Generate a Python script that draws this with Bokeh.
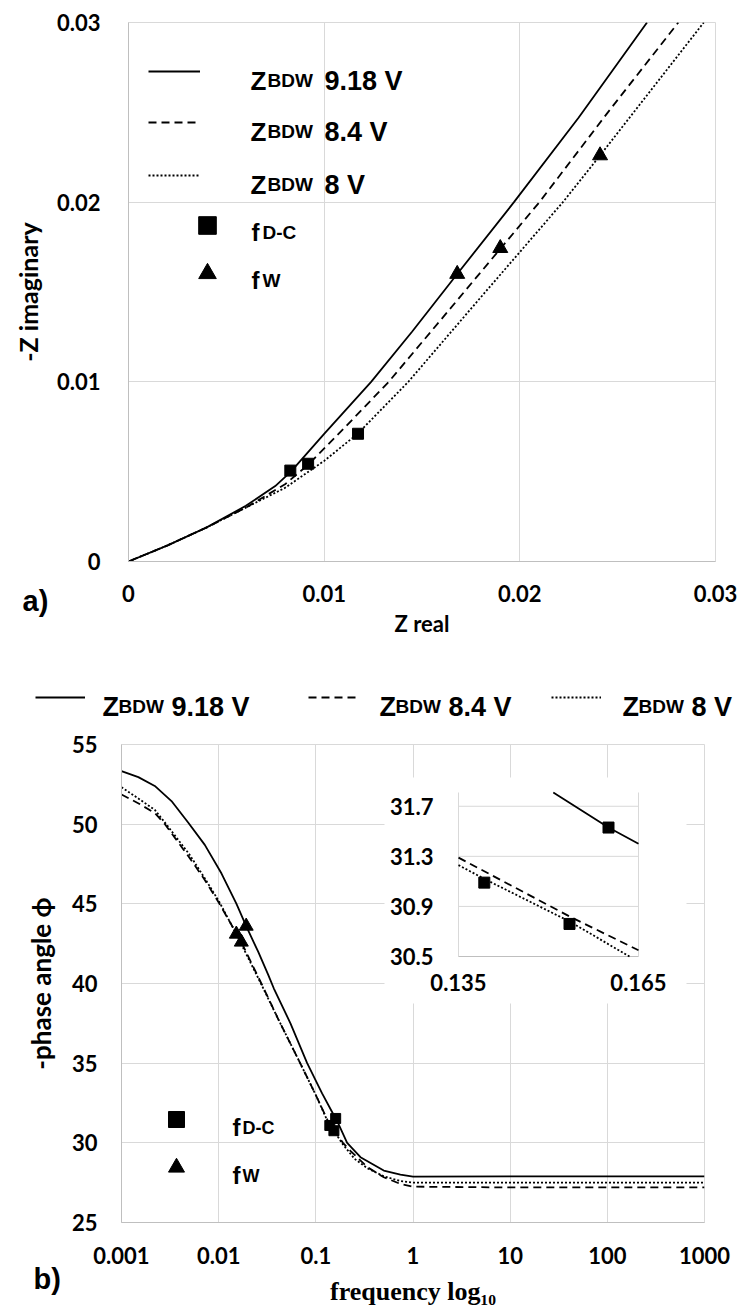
from bokeh.plotting import figure
from bokeh.layouts import column
from bokeh.models import Range1d, FixedTicker, Legend, LegendItem, Label, LinearScale
from bokeh.embed import file_html
from bokeh.resources import INLINE
from bokeh.core.properties import value

# ------------------------------------------------------------------ data
# panel a) Nyquist plot  (Z real, -Z imaginary)
a_re_918 = [0, 0.002, 0.004, 0.006, 0.0075, 0.0083, 0.0100, 0.0124, 0.0145, 0.0168, 0.0197, 0.0230, 0.0265]
a_im_918 = [0, 0.0009, 0.0019, 0.0031, 0.0042, 0.0050, 0.0071, 0.0100, 0.0128, 0.0160, 0.0200, 0.0247, 0.0300]
a_re_84 = [0, 0.002, 0.004, 0.006, 0.0080, 0.0092, 0.0110, 0.0133, 0.0160, 0.0190, 0.0210, 0.0245, 0.0281]
a_im_84 = [0, 0.0009, 0.0019, 0.0030, 0.0043, 0.0054, 0.0074, 0.0100, 0.0135, 0.0174, 0.0200, 0.0250, 0.0300]
a_re_8 = [0, 0.002, 0.004, 0.006, 0.008, 0.0100, 0.0117, 0.0143, 0.0180, 0.0222, 0.0241, 0.0294]
a_im_8 = [0, 0.0009, 0.0019, 0.0030, 0.0041, 0.0056, 0.0071, 0.0100, 0.0147, 0.0200, 0.0226, 0.0300]
a_fdc_re = [0.00827, 0.00918, 0.01173]
a_fdc_im = [0.00506, 0.00544, 0.00711]
a_fw_re = [0.0168, 0.0190, 0.0241]
a_fw_im = [0.0160, 0.01744, 0.0226]
a_ticks = [0, 0.01, 0.02, 0.03]
a_tick_labels = ["0", "0.01", "0.02", "0.03"]

# panel b) Bode phase plot (frequency, -phase angle)
b_f_918 = [0.001, 0.00149, 0.0022, 0.00327, 0.00485, 0.0072, 0.0107, 0.01525, 0.0192, 0.0255, 0.0323,
           0.0369, 0.0548, 0.0814, 0.116, 0.1508, 0.160, 0.165, 0.21, 0.288, 0.5, 0.742, 1.0, 10, 100, 1000]
b_ph_918 = [53.33, 52.95, 52.4, 51.45, 50.1, 48.7, 46.9, 45.0, 43.6, 42.0, 40.56,
            39.7, 37.5, 35.0, 33.1, 31.81, 31.53, 31.40, 30.0, 29.1, 28.26, 28.0, 27.88, 27.9, 27.9, 27.9]
b_f_84 = [0.001, 0.0015, 0.0022, 0.0028, 0.005, 0.0072, 0.0102, 0.0171, 0.0275, 0.0415, 0.069, 0.1,
          0.135, 0.1535, 0.165, 0.19, 0.227, 0.34, 0.5, 0.742, 1.0, 10, 100, 1000]
b_ph_84 = [51.86, 51.3, 50.7, 50.0, 47.9, 46.5, 45.0, 42.6, 40.0, 37.7, 35.0, 33.0,
           31.29, 30.82, 30.55, 30.0, 29.5, 28.47, 27.84, 27.42, 27.25, 27.2, 27.2, 27.2]
b_f_8 = [0.001, 0.0015, 0.0022, 0.0028, 0.005, 0.0072, 0.0102, 0.0152, 0.0272, 0.0415, 0.069, 0.1,
         0.135, 0.1393, 0.1535, 0.1635, 0.19, 0.25, 0.34, 0.5, 0.742, 1.0, 10, 100, 1000]
b_ph_8 = [52.32, 51.6, 50.9, 50.1, 48.1, 46.6, 45.1, 43.1, 40.0, 37.7, 35.0, 33.0,
          31.23, 31.12, 30.78, 30.5, 29.9, 29.0, 28.4, 27.9, 27.6, 27.5, 27.5, 27.5, 27.5]
b_fdc_f = [0.160, 0.1535, 0.1393]
b_fdc_ph = [31.53, 30.76, 31.09]
b_fw_f = [0.0192, 0.0171, 0.0152]
b_fw_ph = [43.6, 42.6, 43.1]
b_xticks = [0.001, 0.01, 0.1, 1, 10, 100, 1000]
b_xtick_labels = ["0.001", "0.01", "0.1", "1", "10", "100", "1000"]
b_yticks = [25, 30, 35, 40, 45, 50, 55]
b_ytick_labels = ["25", "30", "35", "40", "45", "50", "55"]

# inset of panel b)
in_f_918 = [0.1508, 0.160, 0.165]
in_ph_918 = [31.81, 31.53, 31.40]
in_f_84 = [0.135, 0.1535, 0.165]
in_ph_84 = [31.29, 30.82, 30.55]
in_f_8 = [0.135, 0.1393, 0.1535, 0.1635]
in_ph_8 = [31.23, 31.12, 30.78, 30.5]
in_xticks = [0.135, 0.165]
in_xtick_labels = ["0.135", "0.165"]
in_yticks = [30.5, 30.9, 31.3, 31.7]
in_ytick_labels = ["30.5", "30.9", "31.3", "31.7"]
in_x_range = (0.135, 0.165)
in_y_range = (30.5, 31.81)

series_names = ["9.18 V", "8.4 V", "8 V"]

# ------------------------------------------------------------------ styles
GRID = "#d9d9d9"
AXIS = "#bfbfbf"
TICK_FONT = "Lato"
LEG_FONT = "Liberation Sans"
DASH = "8 5"
DOT = "2 2"
LW = 1.8
W = 742


def style_axis(ax, size="22px"):
    ax.major_tick_line_color = None
    ax.minor_tick_line_color = None
    ax.major_tick_out = 0
    ax.major_tick_in = 0
    ax.axis_line_color = AXIS
    ax.major_label_text_font = TICK_FONT
    ax.major_label_text_font_style = "bold"
    ax.major_label_text_font_size = size
    ax.major_label_text_color = "black"
    ax.axis_label_text_color = "black"
    ax.axis_label_text_font_style = "bold"


def add_text(p, fl, fb, px, py, text, size, font=LEG_FONT, align="left", baseline="alphabetic"):
    # text inside a plot frame, positioned in screen pixels relative to the frame
    p.add_layout(Label(x=px - fl, y=fb - py, x_units="screen", y_units="screen", text=text,
                       text_font=font, text_font_size=f"{size}px", text_font_style="bold",
                       text_align=align, text_baseline=baseline, text_color="black"))


def add_legend(p, fl, fb, renderer, left, top, gw, gh):
    lg = Legend(items=[LegendItem(label="", renderers=[renderer])],
                location=(left - fl, fb - (top + gh)), glyph_width=gw, glyph_height=gh,
                label_width=0, label_height=gh, label_standoff=0, padding=0, margin=0, spacing=0,
                border_line_color=None, background_fill_alpha=0, label_text_font_size="1px")
    p.add_layout(lg)


# ------------------------------------------------------------------ panel a
HA = 640
FA_L, FA_R, FA_T, FA_B = 128, 715, 22, 561
pa = figure(width=W, height=HA, title=None, x_range=Range1d(0, 0.03), y_range=Range1d(0, 0.03),
            output_backend="svg", toolbar_location=None, frame_align=False,
            min_border_left=FA_L, min_border_right=W - FA_R, min_border_top=FA_T, min_border_bottom=HA - FA_B)
pa.outline_line_color = GRID
pa.border_fill_color = "white"
a_ticker = FixedTicker(ticks=a_ticks)
for ax in (pa.xaxis[0], pa.yaxis[0]):
    style_axis(ax)
    ax.ticker = a_ticker
    ax.major_label_overrides = {t: l for t, l in zip(a_ticks, a_tick_labels)}
for g in (pa.xgrid[0], pa.ygrid[0]):
    g.ticker = a_ticker
    g.grid_line_color = GRID
pa.xaxis.major_label_standoff = 23
pa.yaxis.major_label_standoff = 28
pa.xaxis.axis_label = "Z real"
pa.xaxis.axis_label_text_font = TICK_FONT
pa.xaxis.axis_label_text_font_size = "22px"
pa.xaxis.axis_label_standoff = 5
pa.yaxis.axis_label = "-Z imaginary"
pa.yaxis.axis_label_text_font = TICK_FONT
pa.yaxis.axis_label_text_font_size = "25px"
pa.yaxis.axis_label_standoff = 11

ra1 = pa.line(a_re_918, a_im_918, line_color="black", line_width=LW)
ra2 = pa.line(a_re_84, a_im_84, line_color="black", line_width=LW, line_dash=DASH)
ra3 = pa.line(a_re_8, a_im_8, line_color="black", line_width=LW, line_dash=DOT)
rsa = pa.scatter(a_fdc_re, a_fdc_im, marker="square", size=11, color="black")
rta = pa.scatter(a_fw_re, a_fw_im, marker="triangle", size=15, color="black")

# legend a (glyph samples + rich text)
for r, cy in zip((ra1, ra2, ra3), (71, 122, 175)):
    add_legend(pa, FA_L, FA_B, r, 148, cy - 10, 52, 20)
for r, cy in zip((rsa, rta), (225, 273)):
    add_legend(pa, FA_L, FA_B, r, 207 - 22, cy - 22, 44, 44)
for name, cy in zip(series_names, (71, 122, 175)):
    add_text(pa, FA_L, FA_B, 250, cy + 9, "Z", 26)
    add_text(pa, FA_L, FA_B, 267, cy + 9, "BDW", 19)
    add_text(pa, FA_L, FA_B, 324, cy + 9, name, 27)
add_text(pa, FA_L, FA_B, 251, 232, "f", 24)
add_text(pa, FA_L, FA_B, 262, 232, "D-C", 19)
add_text(pa, FA_L, FA_B, 251, 280, "f", 24)
add_text(pa, FA_L, FA_B, 262, 280, "W", 19)

# panel tag "a)" (outside the frame -> lives in the narrow right side panel, placed in data units)
kxa = 0.03 / (FA_R - FA_L)
kya = 0.03 / (FA_B - FA_T)
pa.add_layout(Label(x=(22 - FA_L) * kxa, y=(FA_B - 600) * kya, x_units="data", y_units="data", text="a)",
                    text_font=LEG_FONT, text_font_size="29px", text_font_style="bold",
                    text_align="left", text_baseline="middle", text_color="black"), "right")

# ------------------------------------------------------------------ legend strip of panel b
HS = 80
S_BOTTOM = HA + HS
ps = figure(width=W, height=HS, title=None, x_range=Range1d(0, 1), y_range=Range1d(0, 1),
            output_backend="svg", toolbar_location=None, x_axis_location=None, y_axis_location=None,
            frame_align=False, min_border_left=0, min_border_right=0, min_border_top=0, min_border_bottom=0)
ps.outline_line_color = None
ps.grid.visible = False
ps.border_fill_color = "white"
# hidden copies of the panel-b series, used only as legend glyph sources
rs1 = ps.line(b_f_918, b_ph_918, line_color="black", line_width=LW, visible=False)
rs2 = ps.line(b_f_84, b_ph_84, line_color="black", line_width=LW, line_dash=DASH, visible=False)
rs3 = ps.line(b_f_8, b_ph_8, line_color="black", line_width=LW, line_dash=DOT, visible=False)
for r, x0, zx, name in zip((rs1, rs2, rs3), (35, 308, 551), (102, 379, 622), series_names):
    add_legend(ps, 0, S_BOTTOM, r, x0, 697 - 10, 50, 20)
    add_text(ps, 0, S_BOTTOM, zx, 706, "Z", 27)
    add_text(ps, 0, S_BOTTOM, zx + 16, 706, "BDW", 19)
    add_text(ps, 0, S_BOTTOM, zx + 69, 706, name, 27)

# ------------------------------------------------------------------ panel b
HB = 1309 - S_BOTTOM
PB_TOP, PB_BOTTOM = 744, 1222
FB_L, FB_R = 121, 704
pb = figure(width=W, height=HB, title=None, x_axis_type="log", x_range=Range1d(0.001, 1000),
            y_range=Range1d(25, 55), output_backend="svg", toolbar_location=None, frame_align=False,
            min_border_left=FB_L, min_border_right=W - FB_R, min_border_top=PB_TOP - S_BOTTOM,
            min_border_bottom=1309 - PB_BOTTOM)
pb.outline_line_color = GRID
pb.border_fill_color = "white"
bx_ticker = FixedTicker(ticks=b_xticks)
by_ticker = FixedTicker(ticks=b_yticks)
style_axis(pb.xaxis[0])
style_axis(pb.yaxis[0])
pb.xaxis.ticker = bx_ticker
pb.yaxis.ticker = by_ticker
pb.xgrid.ticker = bx_ticker
pb.ygrid.ticker = by_ticker
pb.grid.grid_line_color = GRID
pb.xaxis.major_label_overrides = {t: l for t, l in zip(b_xticks, b_xtick_labels)}
pb.yaxis.major_label_overrides = {t: l for t, l in zip(b_yticks, b_ytick_labels)}
pb.xaxis.major_label_standoff = 24
pb.yaxis.major_label_standoff = 24
pb.xaxis.axis_label = "frequency log\u2081\u2080"
pb.xaxis.axis_label_text_font = "Liberation Serif"
pb.xaxis.axis_label_text_font_size = "26px"
pb.xaxis.axis_label_standoff = 10
pb.yaxis.axis_label = "-phase angle \u03d5"
pb.yaxis.axis_label_text_font = TICK_FONT
pb.yaxis.axis_label_text_font_size = "26px"
pb.yaxis.axis_label_standoff = 12

rb1 = pb.line(b_f_918, b_ph_918, line_color="black", line_width=LW)
rb2 = pb.line(b_f_84, b_ph_84, line_color="black", line_width=LW, line_dash=DASH)
rb3 = pb.line(b_f_8, b_ph_8, line_color="black", line_width=LW, line_dash=DOT)
rsb = pb.scatter(b_fdc_f, b_fdc_ph, marker="square", size=10, color="black")
rtb = pb.scatter(b_fw_f, b_fw_ph, marker="triangle", size=14, color="black")

# inner legend of panel b
for r, cy in zip((rsb, rtb), (1119, 1167)):
    add_legend(pb, FB_L, PB_BOTTOM, r, 176 - 20, cy - 20, 40, 40)
add_text(pb, FB_L, PB_BOTTOM, 232, 1127, "f", 24)
add_text(pb, FB_L, PB_BOTTOM, 242, 1127, "D-C", 18)
add_text(pb, FB_L, PB_BOTTOM, 232, 1175, "f", 24)
add_text(pb, FB_L, PB_BOTTOM, 242, 1175, "W", 18)

# panel tag "b)"
dec_px = (FB_R - FB_L) / 6.0
pb.add_layout(Label(x=10 ** (-3 + (33 - FB_L) / dec_px), y=25 - (1278 - PB_BOTTOM) * 30 / (PB_BOTTOM - PB_TOP),
                    x_units="data", y_units="data", text="b)",
                    text_font=LEG_FONT, text_font_size="29px", text_font_style="bold",
                    text_align="left", text_baseline="middle", text_color="black"), "right")

# ------------------------------------------------------------------ inset (own linear scales)
IN_L, IN_R, IN_T, IN_B = 458, 638, 792, 956      # inset plot area on the page
BOX_L, BOX_R, BOX_T, BOX_B = 384, 686, 777, 1003  # white inset panel on the page
kx = (in_x_range[1] - in_x_range[0]) / (IN_R - IN_L)
ky = (in_y_range[1] - in_y_range[0]) / (IN_B - IN_T)
ix0 = in_x_range[0] - (IN_L - FB_L) * kx
iy0 = in_y_range[0] - (PB_BOTTOM - IN_B) * ky
pb.extra_x_ranges = {"ix": Range1d(ix0, ix0 + (FB_R - FB_L) * kx)}
pb.extra_y_ranges = {"iy": Range1d(iy0, iy0 + (PB_BOTTOM - PB_TOP) * ky)}
pb.extra_x_scales = {"ix": LinearScale()}
pb.extra_y_scales = {"iy": LinearScale()}
IK = dict(x_range_name="ix", y_range_name="iy")

pb.quad(left=[ix0 + (BOX_L - FB_L) * kx], right=[ix0 + (BOX_R - FB_L) * kx],
        bottom=[iy0 + (PB_BOTTOM - BOX_B) * ky], top=[iy0 + (PB_BOTTOM - BOX_T) * ky],
        fill_color="white", line_color=None, **IK)
grid_y = [t for t in in_yticks if t != in_y_range[0]]
pb.segment(x0=[in_x_range[0]] * len(grid_y), x1=[in_x_range[1]] * len(grid_y), y0=grid_y, y1=grid_y,
           line_color=GRID, line_width=1, **IK)
pb.segment(x0=in_xticks, x1=in_xticks, y0=[in_y_range[0]] * len(in_xticks), y1=[in_y_range[1]] * len(in_xticks),
           line_color=GRID, line_width=1, **IK)
pb.segment(x0=[in_x_range[0]], x1=[in_x_range[1]], y0=[in_y_range[0]], y1=[in_y_range[0]],
           line_color=AXIS, line_width=1, **IK)
pb.text(x=[in_x_range[0]] * len(in_yticks), y=in_yticks, text=in_ytick_labels, x_offset=-25,
        text_align="right", text_baseline="middle", text_font=value(TICK_FONT), text_font_style="bold",
        text_font_size="22px", text_color="black", **IK)
pb.text(x=in_xticks, y=[in_y_range[0]] * len(in_xticks), text=in_xtick_labels, y_offset=26,
        text_align="center", text_baseline="middle", text_font=value(TICK_FONT), text_font_style="bold",
        text_font_size="22px", text_color="black", **IK)
pb.line(in_f_918, in_ph_918, line_color="black", line_width=LW, **IK)
pb.line(in_f_84, in_ph_84, line_color="black", line_width=LW, line_dash=DASH, **IK)
pb.line(in_f_8, in_ph_8, line_color="black", line_width=LW, line_dash=DOT, **IK)
pb.scatter(b_fdc_f, b_fdc_ph, marker="square", size=11, color="black", **IK)

layout = column(pa, ps, pb, spacing=0)
open("out.html", "w").write(file_html(layout, INLINE))
